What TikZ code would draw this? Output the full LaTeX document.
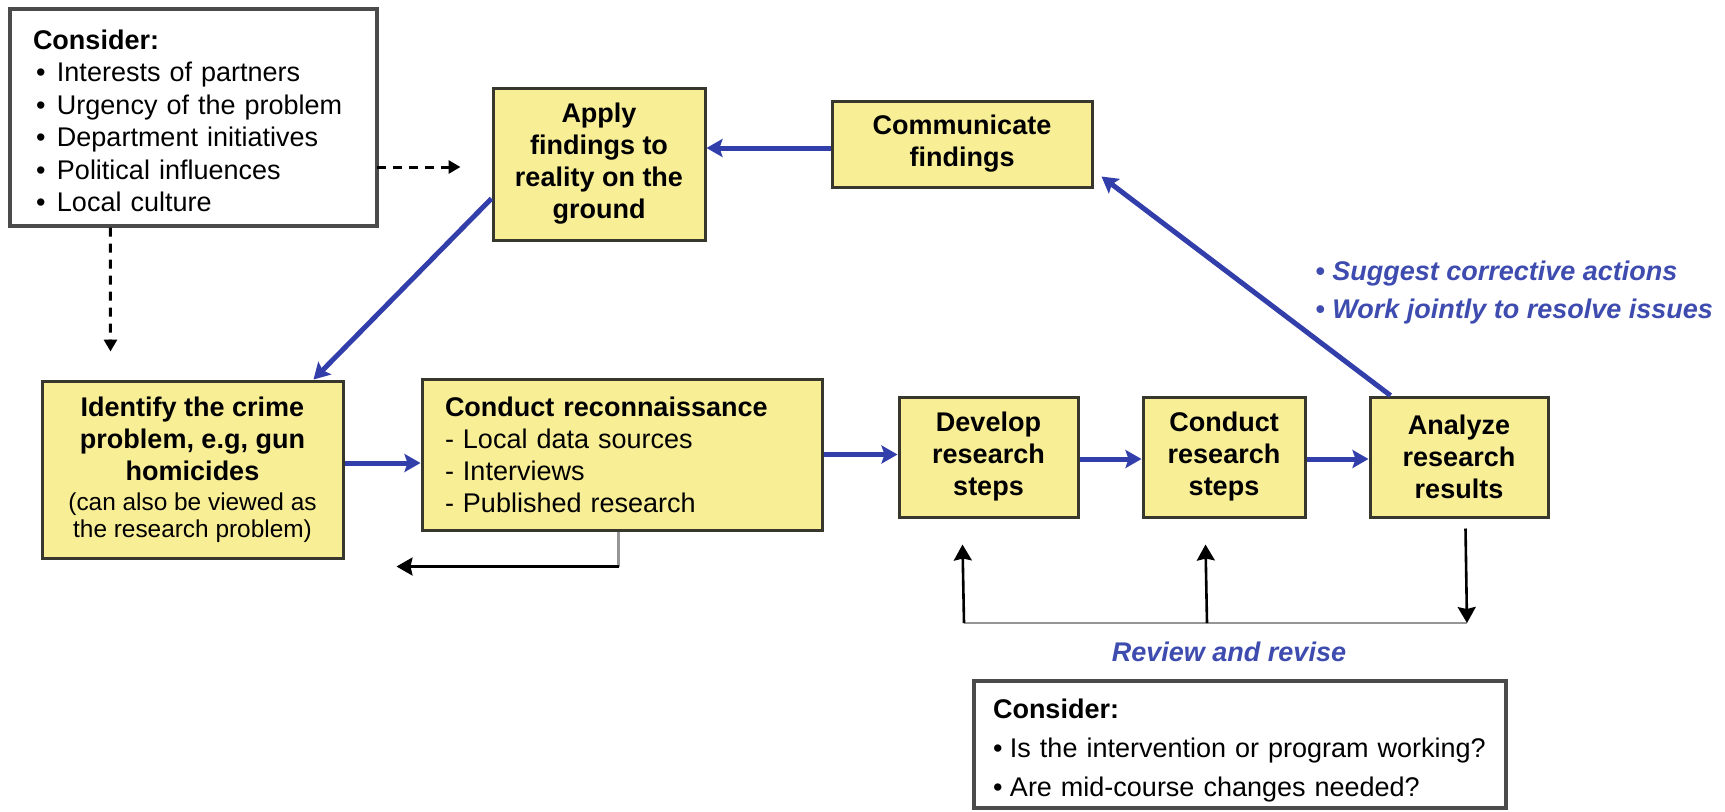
\documentclass[tikz,border=0pt]{standalone}
\usepackage{fontspec}
\setmainfont{Liberation Sans}
\usetikzlibrary{arrows.meta,calc}
\definecolor{yfill}{RGB}{248,238,150}
\definecolor{boxline}{RGB}{55,55,45}
\definecolor{wline}{RGB}{75,75,75}
\definecolor{myblue}{RGB}{50,62,170}
\definecolor{bluetxt}{RGB}{62,76,176}
\definecolor{lgray}{RGB}{150,150,150}
\newcommand\mybul{\makebox[12pt][l]{\hspace{1.5pt}•}}
\newcommand\mybulb{\makebox[8.5pt][l]{•}}
\begin{document}
\begin{tikzpicture}[x=0.5pt,y=-0.5pt,
  ybox/.style={draw=boxline, line width=1.5pt, fill=yfill, inner sep=0pt, align=center,
    font=\bfseries\fontsize{13.5}{16}\selectfont},
  wbox/.style={draw=wline, line width=1.6pt, fill=white, inner ysep=0pt, align=left},
  bluearrow/.style={draw=myblue, line width=2.5pt, -{Stealth[length=8pt,width=9pt,inset=1.5pt]}},
  blackarrow/.style={draw=black, line width=1.3pt, -{Stealth[length=8pt,width=9pt,inset=1pt]}},
  dasharrow/.style={draw=black, line width=1.5pt, dash pattern=on 4.5pt off 3.5pt, -{Triangle[length=6pt,width=6.5pt]}},
  grayline/.style={draw=lgray, line width=1.1pt},
  bluelbl/.style={text=bluetxt, font=\bfseries\itshape\fontsize{13.5}{19}\selectfont, inner sep=0pt}
]
\useasboundingbox (0,0) rectangle (1725,811);

% boxes
\node[wbox, text width=160.5pt, inner xsep=11.5pt, minimum height=108.5pt,
  font=\fontsize{13.5}{16.25}\selectfont] (ctl) at (193.5,117.5)
  {\rule{0pt}{13pt}\textbf{Consider:}\\ \mybul Interests of partners\\ \mybul Urgency of the problem\\
   \mybul Department initiatives\\ \mybul Political influences\\ \mybul Local culture};

\node[ybox, minimum width=106pt, minimum height=76pt] (apply) at (599,164)
  {Apply\\ findings to\\ reality on the\\ ground};

\node[ybox, minimum width=130pt, minimum height=43pt] (comm) at (962,144)
  {Communicate\\ findings};

\node[ybox, minimum width=150.5pt, minimum height=88.5pt] (identify) at (192.5,469.5)
  {Identify the crime\\ problem, e.g, gun\\ homicides\\[-1pt]
   {\mdseries\fontsize{12.2}{13.5}\selectfont (can also be viewed as}\\[-2.5pt]
   {\mdseries\fontsize{12.2}{13.5}\selectfont the research problem)}};

\node[ybox, align=left, text width=177pt, inner xsep=11.5pt, minimum height=75.5pt] (recon) at (622,454.5)
  {Conduct reconnaissance\\ \mdseries - Local data sources\\ \mdseries - Interviews\\ \mdseries - Published research};

\node[ybox, minimum width=89.5pt, minimum height=60pt] (develop) at (988.5,457)
  {Develop\\ research\\ steps};
\node[ybox, minimum width=81pt, minimum height=60pt] (conduct) at (1224,457)
  {Conduct\\ research\\ steps};
\node[ybox, minimum width=89pt, minimum height=60pt] (analyze) at (1459,457)
  {Analyze\\ research\\ results};

\node[wbox, text width=247pt, inner xsep=9.5pt, minimum height=63.5pt,
  font=\fontsize{13.5}{19.5}\selectfont] (cbot) at (1240,744.5)
  {\rule{0pt}{16pt}\textbf{Consider:}\\ \mybulb Is the intervention or program working?\\ \mybulb Are mid-course changes needed?};

% labels
\node[bluelbl, anchor=west, align=left] (actions) at (1315,293)
  {• Suggest corrective actions\\ • Work jointly to resolve issues};
\node[bluelbl] (review) at (1229,652) {Review and revise};

% blue flow arrows
\draw[bluearrow] ($(comm.west)+(0,4)$) -- ($(apply.east)+(0,-16)$);
\draw[bluearrow] ($(apply.south west)+(0,-43)$) -- ($(identify.north east)+(-31,0)$);
\draw[bluearrow] ($(analyze.north west)+(22,0)$) -- ($(comm.south east)+(8,-12)$);
\draw[bluearrow] ($(identify.east)+(0,-6.5)$) -- ($(recon.west)+(0,8.5)$);
\draw[bluearrow] (recon.east) -- (recon.east -| develop.west);
\draw[bluearrow] ($(develop.east)+(0,2)$) -- ($(conduct.west)+(0,2)$);
\draw[bluearrow] ($(conduct.east)+(0,2)$) -- ($(analyze.west)+(0,2)$);

% dashed arrows
\draw[dasharrow] ($(ctl.east)+(-2,49.5)$) -- ($(apply.west)+(-31,3)$);
\draw[dasharrow] ($(ctl.south west)+(102,0)$) -- ($(identify.north west)+(70,-28)$);

% return arrow from reconnaissance
\coordinate (rcorner) at ($(recon.south west)+(198,35)$);
\draw[grayline] ($(recon.south west)+(198,0)$) -- (rcorner);
\draw[blackarrow] (rcorner) -- ($(identify.south east)+(52,7)$);

% review and revise loop
\coordinate (rl) at (964,623);
\coordinate (rm) at (1207,623);
\coordinate (rr) at (1467,623);
\draw[grayline] (rl) -- (rr);
\draw[blackarrow] ($(analyze.south west)+(97,10)$) -- (rr);
\draw[blackarrow] (rl) -- ($(develop.south west)+(65,26)$);
\draw[blackarrow] (rm) -- ($(conduct.south west)+(64,26)$);
\end{tikzpicture}
\end{document}
